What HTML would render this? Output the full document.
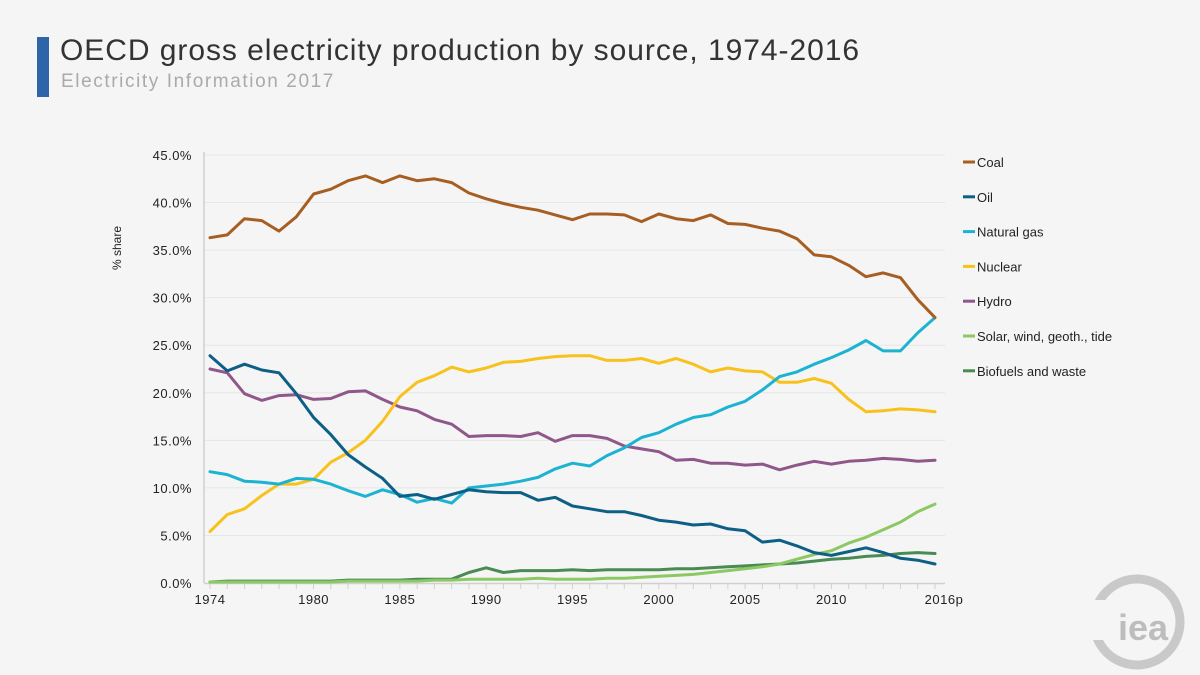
<!DOCTYPE html>
<html><head><meta charset="utf-8"><style>
body{margin:0;background:#f5f5f5;font-family:"Liberation Sans",sans-serif;}
#wrap{position:relative;width:1200px;height:675px;overflow:hidden;background:#f5f5f5;}
</style></head><body>
<div id="wrap">
<div style="position:absolute;left:37px;top:37px;width:12px;height:60px;background:#2e64a8"></div>
<div style="position:absolute;left:60px;top:34px;font-size:30px;color:#333;letter-spacing:0.95px">OECD gross electricity production by source, 1974-2016</div>
<div style="position:absolute;left:61px;top:71px;font-size:19px;color:#aaa;letter-spacing:1.6px">Electricity Information 2017</div>
<svg id="chart" width="1200" height="675" style="position:absolute;left:0;top:0"></svg>
</div>
<script>
const years=[];for(let y=1974;y<=2016;y++)years.push(y);
const xTickLabels=["1974","1980","1985","1990","1995","2000","2005","2010","2016p"];
const xTickYears=[1974,1980,1985,1990,1995,2000,2005,2010,2016];
const yTicks=[0,5,10,15,20,25,30,35,40,45];
const seriesNames=["Coal","Oil","Natural gas","Nuclear","Hydro","Solar, wind, geoth., tide","Biofuels and waste"];
const seriesColors=["#a65e22","#0e5f86","#1cb3d3","#f7c21c","#8f578a","#8cc863","#4a8a53"];
const coal=[36.3,36.6,38.3,38.1,37.0,38.5,40.9,41.4,42.3,42.8,42.1,42.8,42.3,42.5,42.1,41.0,40.4,39.9,39.5,39.2,38.7,38.2,38.8,38.8,38.7,38.0,38.8,38.3,38.1,38.7,37.8,37.7,37.3,37.0,36.2,34.5,34.3,33.4,32.2,32.6,32.1,29.8,27.9];
const oil=[23.9,22.3,23.0,22.4,22.1,19.9,17.4,15.6,13.5,12.2,11.0,9.1,9.3,8.8,9.3,9.8,9.6,9.5,9.5,8.7,9.0,8.1,7.8,7.5,7.5,7.1,6.6,6.4,6.1,6.2,5.7,5.5,4.3,4.5,3.9,3.2,2.9,3.3,3.7,3.2,2.6,2.4,2.0];
const gas=[11.7,11.4,10.7,10.6,10.4,11.0,10.9,10.4,9.7,9.1,9.8,9.3,8.5,8.9,8.4,10.0,10.2,10.4,10.7,11.1,12.0,12.6,12.3,13.4,14.2,15.3,15.8,16.7,17.4,17.7,18.5,19.1,20.3,21.7,22.2,23.0,23.7,24.5,25.5,24.4,24.4,26.3,27.9];
const nuclear=[5.4,7.2,7.8,9.2,10.4,10.4,10.9,12.7,13.7,15.0,17.0,19.6,21.1,21.8,22.7,22.2,22.6,23.2,23.3,23.6,23.8,23.9,23.9,23.4,23.4,23.6,23.1,23.6,23.0,22.2,22.6,22.3,22.2,21.1,21.1,21.5,21.0,19.3,18.0,18.1,18.3,18.2,18.0];
const hydro=[22.5,22.1,19.9,19.2,19.7,19.8,19.3,19.4,20.1,20.2,19.3,18.5,18.1,17.2,16.7,15.4,15.5,15.5,15.4,15.8,14.9,15.5,15.5,15.2,14.4,14.1,13.8,12.9,13.0,12.6,12.6,12.4,12.5,11.9,12.4,12.8,12.5,12.8,12.9,13.1,13.0,12.8,12.9];
const solar=[0.1,0.1,0.1,0.1,0.1,0.1,0.1,0.1,0.2,0.2,0.2,0.2,0.2,0.3,0.3,0.4,0.4,0.4,0.4,0.5,0.4,0.4,0.4,0.5,0.5,0.6,0.7,0.8,0.9,1.1,1.3,1.5,1.7,2.0,2.5,3.0,3.4,4.2,4.8,5.6,6.4,7.5,8.3];
const biofuels=[0.1,0.2,0.2,0.2,0.2,0.2,0.2,0.2,0.3,0.3,0.3,0.3,0.4,0.4,0.4,1.1,1.6,1.1,1.3,1.3,1.3,1.4,1.3,1.4,1.4,1.4,1.4,1.5,1.5,1.6,1.7,1.8,1.9,2.0,2.1,2.3,2.5,2.6,2.8,2.9,3.1,3.2,3.1];
const allSeries=[coal,oil,gas,nuclear,hydro,solar,biofuels];
const slugs=["coal","oil","natural-gas","nuclear","hydro","solar-wind","biofuels"];

const svg=document.getElementById('chart');const NS="http://www.w3.org/2000/svg";
const X0=210,X1=935,Y0=583,Y1=155;
const xs=y=>X0+(y-1974)*(X1-X0)/42;
const ys=v=>Y0-v*(Y0-Y1)/45;
function mk(t,a,p){const e=document.createElementNS(NS,t);for(const k in a)e.setAttribute(k,a[k]);(p||svg).appendChild(e);return e;}
yTicks.forEach(v=>{
  if(v>0){const g=mk('line',{x1:204,x2:945,y1:ys(v),y2:ys(v),stroke:'#e6e6e6','stroke-width':1});
  
  }
  const t=mk('text',{x:192,y:ys(v)+5,'text-anchor':'end','font-size':13,fill:'#222','letter-spacing':0.5,'font-family':'Liberation Sans, sans-serif'});
  t.textContent=v.toFixed(1)+'%';
  
  
});
const ax=mk('line',{x1:204,x2:204,y1:152,y2:583,stroke:'#d0d0d0','stroke-width':1.5});


const bx=mk('line',{x1:204,x2:945,y1:583.5,y2:583.5,stroke:'#d0d0d0','stroke-width':1.5});


years.forEach(y=>{const tk=mk('line',{x1:xs(y),x2:xs(y),y1:584,y2:589,stroke:'#d0d0d0'});

});
xTickYears.forEach((y,i)=>{const t=mk('text',{x:xs(y)+(i==8?9:0),y:604,'text-anchor':'middle','font-size':13,fill:'#222','letter-spacing':0.5,'font-family':'Liberation Sans, sans-serif'});
t.textContent=xTickLabels[i];

});
const yt=mk('text',{x:0,y:0,transform:'translate(121,248) rotate(-90)','text-anchor':'middle','font-size':12,fill:'#222','font-family':'Liberation Sans, sans-serif'});
yt.textContent='% share';


const drawOrder=[6,5,4,3,2,1,0];
drawOrder.forEach(i=>{
  const d=allSeries[i].map((v,j)=>(j?'L':'M')+xs(years[j]).toFixed(1)+' '+ys(v).toFixed(1)).join(' ');
  const p=mk('path',{d:d,fill:'none',stroke:seriesColors[i],'stroke-width':3,'stroke-linejoin':'round','stroke-linecap':'round'});
  
  
});
seriesNames.forEach((n,i)=>{
  const yy=162+i*34.8;
  const g=mk('g',{});
  
  
  mk('line',{x1:963,x2:975,y1:yy,y2:yy,stroke:seriesColors[i],'stroke-width':3},g);
  const t=mk('text',{x:977,y:yy+5,'font-size':13,fill:'#222','font-family':'Liberation Sans, sans-serif'},g);
  t.textContent=n;
});
const lg=mk('g',{});


mk('circle',{cx:1137,cy:622,r:43,fill:'none',stroke:'#c9c9c9','stroke-width':9},lg);
mk('rect',{x:1080,y:600,width:70,height:40,fill:'#f5f5f5'},lg);
const lt=mk('text',{x:1143,y:640,'text-anchor':'middle','font-size':36,'font-weight':'bold',fill:'#bdbdbd','font-family':'Liberation Sans, sans-serif'},lg);
lt.textContent='iea';
</script>
</body></html>
